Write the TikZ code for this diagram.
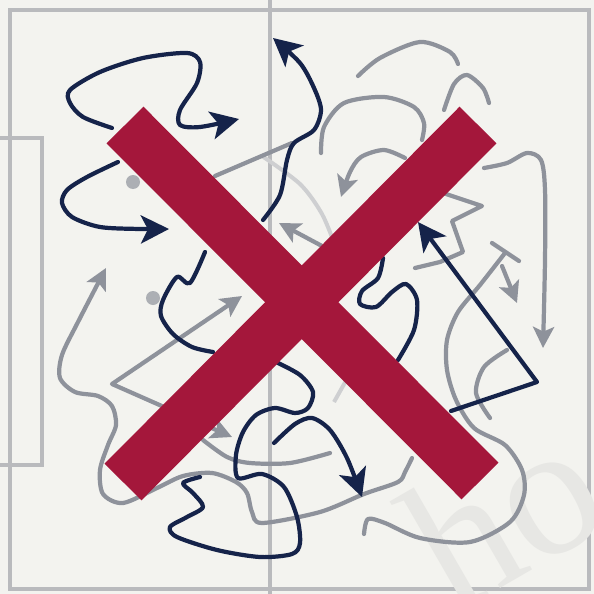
\documentclass[tikz,border=0pt]{standalone}
\usepackage{fontspec}
\setmainfont{Liberation Serif}
\usetikzlibrary{arrows.meta}

\definecolor{pitchbg}{HTML}{F3F3EF}
\definecolor{pitchgrey}{HTML}{B9BABD}
\definecolor{runnavy}{HTML}{15234A}
\definecolor{rungrey}{HTML}{8E929B}
\definecolor{crossred}{HTML}{A4173B}
\definecolor{markgrey}{HTML}{E7E7E4}

\begin{document}
\begin{tikzpicture}[
  x=0.03cm, y=-0.03cm,
  pitchline/.style={draw=pitchgrey, line width=3.4pt},
  navyrun/.style={draw=runnavy, line width=3.6pt, line cap=round, line join=round},
  greyrun/.style={draw=rungrey, line width=3.6pt, line cap=round, line join=round},
  navyhead/.style={-{Stealth[length=24pt,width=24pt,inset=6pt]}},
  greyhead/.style={-{Stealth[length=18pt,width=18pt,inset=4pt]}},
  crossbar/.style={draw=crossred, line width=1.56cm},
  ball/.style={fill=rungrey!70!pitchbg}]
\useasboundingbox (0,0) rectangle (594,594);
\clip (0,0) rectangle (594,594);
\fill[pitchbg] (0,0) rectangle (594,594);

% pitch
\draw[pitchline] (10,10) rectangle (589,589);
\draw[pitchline] (270,0) -- (270,594);
\draw[pitchline] (0,138) -- (42,138) -- (42,465) -- (0,465);
\draw[pitchline, draw=pitchgrey!70] plot[smooth] coordinates {(262,156) (300,184) (322,214) (336,248)};
\draw[pitchline, draw=pitchgrey!70] (352,370) -- (334,402);

% watermark
\node[text=markgrey, rotate=30, anchor=base west,
      font=\fontsize{160}{160}\selectfont] (mark) at (450,618) {ho};

% grey runs
\draw[greyrun] plot[smooth] coordinates {(358,76) (380,58) (420,42) (450,52) (458,64)};
\draw[greyrun] plot[smooth] coordinates {(321,153) (324,127) (344,103) (384,97) (414,107) (424,123) (422,140)};
\draw[greyrun] plot[smooth] coordinates {(444,110) (454,84) (467,75) (483,88) (489,103)};
\draw[greyrun, greyhead] plot[smooth] coordinates {(405,158) (384,150) (361,157) (350,172) (341,197)};
\draw[greyrun, greyhead] plot[smooth] coordinates {(484,168) (507,163) (527,153) (541,160) (545,190) (545,260) (543,348)};
\draw[greyrun] (440,192) -- (482,206) -- (452,221) -- (463,252) -- (440,262) -- (415,268);
\draw[greyrun] (492,243) -- (519,261);
\draw[greyrun] plot[smooth] coordinates {(505,253) (480,285) (458,312) (447,340) (447,370) (456,400) (474,428) (505,445) (522,470) (524,495) (510,522) (470,542) (420,538) (385,523) (368,519) (364,534)};
\draw[greyrun, greyhead] (502,266) -- (517,303);
\draw[greyrun] plot[smooth] coordinates {(507,350) (484,367) (476,393) (490,418)};
\draw[greyrun, greyhead] plot[smooth] coordinates {(412,458) (405,472) (398,482) (364,494) (320,512) (262,523) (252,512) (247,493) (236,482) (212,473) (183,476) (157,488) (123,503) (103,494) (100,470) (108,445) (116,425) (112,406) (98,396) (75,392) (60,378) (62,355) (78,322) (106,268)};
\draw[greyrun, {Stealth[length=18pt,width=18pt,inset=4pt]}-{Stealth[length=18pt,width=18pt,inset=4pt]}] (232,437) -- (112,384) -- (242,296);
\draw[greyrun] (215,176) -- (292,143);
\draw[greyrun, greyhead] (322,246) -- (279,223);
\draw[greyrun] plot[smooth] coordinates {(203,440) (227,457) (250,463) (290,463) (330,453)};
\fill[ball] (133,182) circle (7);
\fill[ball] (153,298) circle (7);

% navy runs
\draw[navyrun, navyhead] plot[smooth] coordinates {(112,128) (83,117) (70,103) (70,90) (100,72) (143,58) (187,53) (200,62) (197,83) (180,110) (180,125) (200,127) (239,119)};
\draw[navyrun, navyhead] plot[smooth] coordinates {(118,162) (87,177) (67,190) (62,203) (72,217) (100,227) (140,229) (169,229)};
\draw[navyrun, navyhead] plot[smooth] coordinates {(263,220) (280,195) (287,160) (294,143) (314,130) (321,110) (314,88) (300,63) (273,38)};
\draw[navyrun] plot[smooth] coordinates {(205,252) (190,283) (177,277) (163,300) (161,316) (173,334) (192,347) (213,352)};
\draw[navyrun] plot[smooth] coordinates {(383,258) (378,278) (362,291) (360,304) (376,307) (392,292) (406,284) (417,300) (414,330) (398,360)};
\draw[navyrun, navyhead] (451,411) -- (537,382) -- (418,222);
\draw[navyrun] plot[smooth] coordinates {(276,362) (300,375) (313,392) (308,408) (295,413) (275,408) (256,415) (243,432) (236,455) (238,478) (262,474) (284,487) (297,517) (300,543) (292,554) (260,557) (217,550) (177,537) (170,527) (187,517) (203,507) (193,493) (183,483) (200,477)};
\draw[navyrun, navyhead] plot[smooth] coordinates {(274,443) (295,424) (312,418) (330,430) (347,458) (362,497)};

% the cross
\draw[crossbar] (125,125) -- (480,481);
\draw[crossbar] (478,125) -- (123,482);
\end{tikzpicture}
\end{document}
